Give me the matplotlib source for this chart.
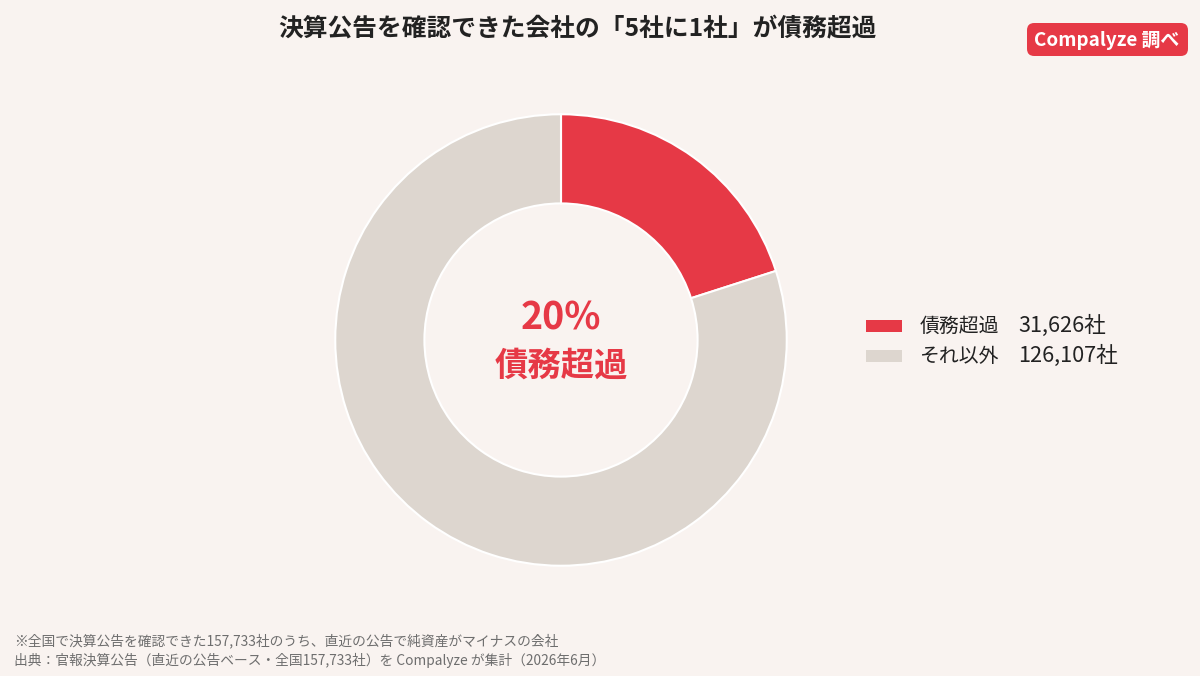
import matplotlib
matplotlib.use("Agg")
from matplotlib import pyplot as plt
from matplotlib.patches import FancyBboxPatch, Rectangle

plt.rcParams['font.family'] = ['Noto Sans CJK JP', 'DejaVu Sans']

labels = ["債務超過", "それ以外"]
counts = [31626, 126107]
colors = ["#e63946", "#ddd6cf"]
title = "決算公告を確認できた会社の「5社に1社」が債務超過"
notes = ["※全国で決算公告を確認できた157,733社のうち、直近の公告で純資産がマイナスの会社",
         "出典：官報決算公告（直近の公告ベース・全国157,733社）を Compalyze が集計（2026年6月）"]

W, H = 1200, 676
bg = "#f9f3f0"
fig = plt.figure(figsize=(W / 100, H / 100), dpi=100, facecolor=bg)


def fx(x):
    return x / W


def fy(y):
    return 1 - y / H


# ドーナツ
cx, cy, r = 561, 340, 228
ax = fig.add_axes([fx(cx - r), fy(cy + r), 2 * r / W, 2 * r / H])
ax.pie(counts, colors=colors, startangle=90, counterclock=False, radius=1,
       wedgeprops=dict(width=0.395, edgecolor="white", linewidth=1.5))
ax.set_aspect("equal")
ax.set_xlim(-1.01, 1.01)
ax.set_ylim(-1.01, 1.01)
ax.axis("off")

share = counts[0] / sum(counts) * 100
fig.text(fx(cx), fy(318), f"{share:.0f}%", color=colors[0], fontsize=27,
         fontweight="bold", ha="center", va="center")
fig.text(fx(cx), fy(366), labels[0], color=colors[0], fontsize=24,
         fontweight="bold", ha="center", va="center")

# タイトル
fig.text(fx(577), fy(29), title, fontsize=17.8, fontweight="bold",
         color="#222222", ha="center", va="center")

# バッジ
badge = FancyBboxPatch((fx(1027), fy(56)), fx(161), 33 / H,
                       boxstyle="round,pad=0,rounding_size=0.006",
                       transform=fig.transFigure, facecolor="#e63946",
                       edgecolor="none", mutation_aspect=W / H)
fig.add_artist(badge)
fig.text(fx(1107), fy(40), "Compalyze 調べ", color="white", fontsize=13.6,
         fontweight="bold", ha="center", va="center")

# 凡例
rows_y = [326, 356]
for lab, n, c, yy in zip(labels, counts, colors, rows_y):
    fig.add_artist(Rectangle((fx(866), fy(yy + 6)), fx(36), 12 / H,
                             transform=fig.transFigure, facecolor=c,
                             edgecolor="none"))
    fig.text(fx(920), fy(yy), lab, fontsize=14.3, color="#222222",
             ha="left", va="center")
    fig.text(fx(1018), fy(yy), f"{n:,}社", fontsize=15.6, color="#222222",
             ha="left", va="center")

# 注記
fig.text(fx(14), fy(641), notes[0], fontsize=9.9, color="#6e6e6e",
         ha="left", va="center")
fig.text(fx(14), fy(660), notes[1], fontsize=9.9, color="#6e6e6e",
         ha="left", va="center")

fig.savefig("out.png", dpi=100, facecolor=bg)
